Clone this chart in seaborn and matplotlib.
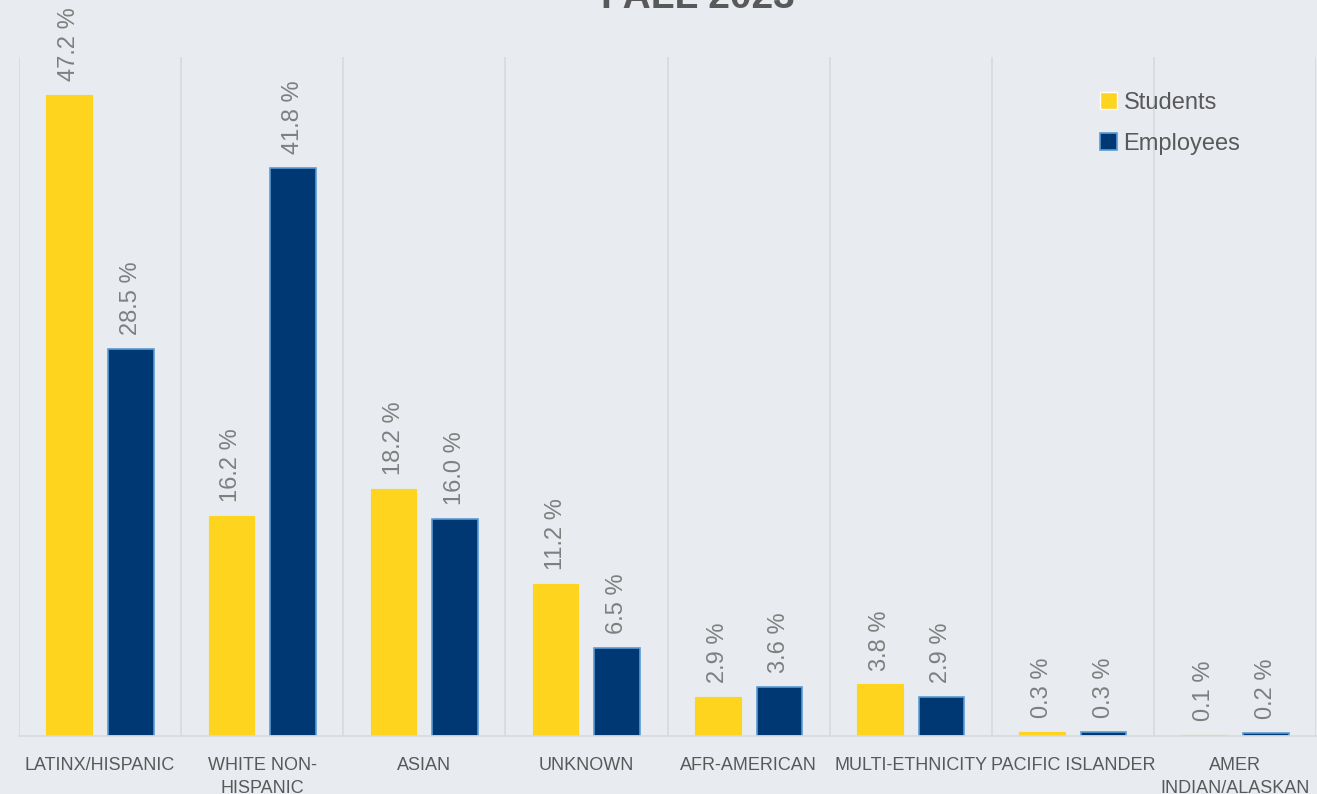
import matplotlib
matplotlib.use("Agg")
import matplotlib.pyplot as plt
import seaborn as sns
import pandas as pd
import numpy as np

categories = ["LATINX/HISPANIC", "WHITE NON-\nHISPANIC", "ASIAN", "UNKNOWN",
              "AFR-AMERICAN", "MULTI-ETHNICITY", "PACIFIC ISLANDER", "AMER\nINDIAN/ALASKAN"]
students = [47.2, 16.2, 18.2, 11.2, 2.9, 3.8, 0.3, 0.1]
employees = [28.5, 41.8, 16.0, 6.5, 3.6, 2.9, 0.3, 0.2]
series_names = ["Students", "Employees"]
title = "FALL 2023"

df = pd.DataFrame({
    "Category": categories * 2,
    "Value": students + employees,
    "Group": [series_names[0]] * len(categories) + [series_names[1]] * len(categories),
})

bg = "#E8EBF0"
yellow = "#FED41E"
navy = "#003874"
edge_blue = "#5B9BD5"
text_gray = "#595959"
label_gray = "#7F7F7F"

sns.set_theme(style="white")
plt.rcParams["font.family"] = ["Liberation Sans", "DejaVu Sans"]

fig = plt.figure(figsize=(13.17, 7.94), dpi=100, facecolor=bg)
ax = fig.add_axes([19 / 1317, 58 / 794, 1297 / 1317, 679 / 794])
ax.set_facecolor(bg)

sns.barplot(data=df, x="Category", y="Value", hue="Group", order=categories,
            hue_order=series_names, palette=[yellow, navy], width=0.76, gap=0.26,
            ax=ax, saturation=1, legend=True)

for patch in ax.containers[1]:
    patch.set_edgecolor(edge_blue)
    patch.set_linewidth(1.2)
for patch in ax.containers[0]:
    patch.set_edgecolor(yellow)
    patch.set_linewidth(0.8)

for cont, vals in zip(ax.containers, [students, employees]):
    ax.bar_label(cont, labels=[f"{v:.1f} %" for v in vals], rotation=90,
                 padding=10, fontsize=17, color=label_gray)

ax.set_xlim(-0.5, len(categories) - 0.5)
ax.set_ylim(0, 50)
ax.set_yticks([])
ax.set_xlabel("")
ax.set_ylabel("")
ax.set_xticks(np.arange(len(categories)))
ax.set_xticklabels(categories, fontsize=13, color=text_gray, linespacing=1.45)
ax.tick_params(axis="x", length=0, pad=15)
ax.set_xticks(np.arange(len(categories) + 1) - 0.5, minor=True)
ax.tick_params(axis="x", which="minor", length=0)
ax.grid(axis="x", which="minor", color="#D6D9DE", linewidth=1.2)
ax.grid(axis="x", which="major", visible=False)
ax.set_axisbelow(True)
for s in ["top", "right", "left"]:
    ax.spines[s].set_visible(False)
ax.spines["bottom"].set_color("#D6D9DE")
ax.spines["bottom"].set_linewidth(1.2)

leg = ax.legend(loc="upper left", bbox_to_anchor=((1100 - 19) / 1297, (736 - 92) / 679),
                frameon=False, fontsize=17, handlelength=0.7, handleheight=0.7,
                handletextpad=0.3, labelspacing=0.8, borderpad=0, borderaxespad=0)
for t in leg.get_texts():
    t.set_color(text_gray)
handles = leg.legend_handles
handles[1].set_edgecolor(edge_blue)
handles[1].set_linewidth(1.2)

fig.text(698 / 1317, 1 - 8 / 794, title, ha="center", va="baseline", fontsize=28,
         fontweight="bold", color=text_gray)

fig.savefig("out.png", dpi=100, facecolor=bg)
